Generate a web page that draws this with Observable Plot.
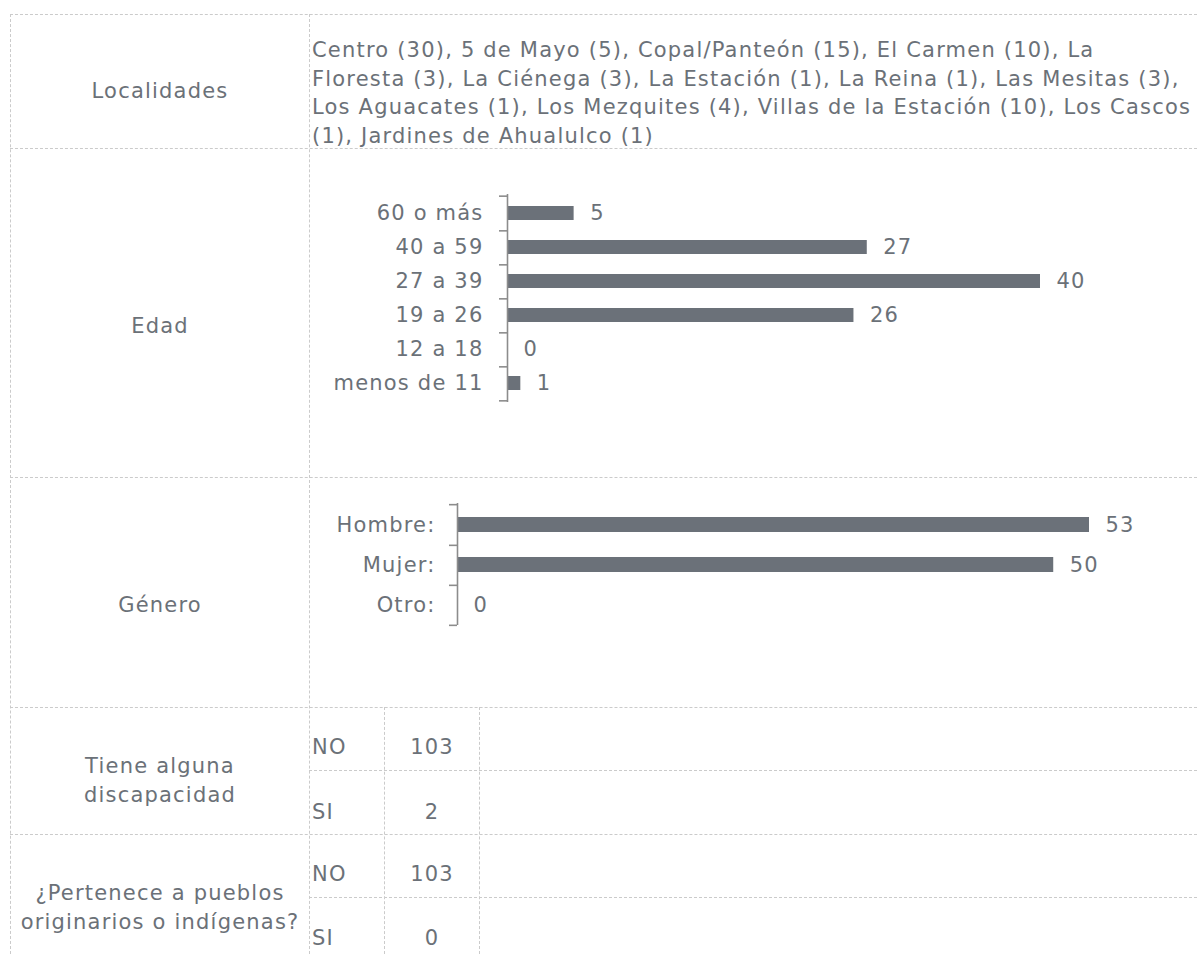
<!DOCTYPE html>
<html>
<head>
<meta charset="utf-8">
<script src="https://cdn.jsdelivr.net/npm/d3@7"></script>
<script src="https://cdn.jsdelivr.net/npm/@observablehq/plot@0.6"></script>
<style>
  body { margin: 0; background: #fff; }
  #page { position: relative; width: 1197px; height: 954px; overflow: hidden;
          font-family: "DejaVu Sans", sans-serif; color: #6b7178; font-size: 21px; letter-spacing: 1.2px; }
  .h { position: absolute; height: 0; border-top: 1px dashed #cbcbcb; }
  .v { position: absolute; width: 0; border-left: 1px dashed #cbcbcb; }
  .t { position: absolute; white-space: nowrap; }
  .c { transform: translate(-50%, -50%); text-align: center; }
  .l { transform: translateY(-50%); }
  .chart { position: absolute; }
</style>
</head>
<body>
<div id="page"></div>
<script>
// ---------- data ----------
const localidadNames = ["Centro", "5 de Mayo", "Copal/Panteón", "El Carmen", "La Floresta", "La Ciénega",
  "La Estación", "La Reina", "Las Mesitas", "Los Aguacates", "Los Mezquites", "Villas de la Estación",
  "Los Cascos", "Jardines de Ahualulco"];
const localidadCounts = [30, 5, 15, 10, 3, 3, 1, 1, 3, 1, 4, 10, 1, 1];

const edadCategories = ["60 o más", "40 a 59", "27 a 39", "19 a 26", "12 a 18", "menos de 11"];
const edadValues = [5, 27, 40, 26, 0, 1];

const generoCategories = ["Hombre:", "Mujer:", "Otro:"];
const generoValues = [53, 50, 0];

const respuestas = ["NO", "SI"];
const discapacidadValues = [103, 2];
const pueblosValues = [103, 0];

const rowLabels = ["Localidades", "Edad", "Género", "Tiene alguna\ndiscapacidad", "¿Pertenece a pueblos\noriginarios o indígenas?"];

// ---------- layout ----------
const page = document.getElementById("page");
const FONT = '"DejaVu Sans", sans-serif';
const TEXT = "#6b7178";
const BAR = "#6b7179";
const AXIS = "#8c8c8c";
const FS = 21;
const LS = "1.2px";

function el(cls, style, html) {
  const d = document.createElement("div");
  d.className = cls;
  Object.assign(d.style, style);
  if (html != null) d.innerHTML = html;
  page.appendChild(d);
  return d;
}
// grid lines
[14, 148, 477, 707, 834].forEach(y => el("h", {left: "10px", top: y + "px", width: "1187px"}));
[770, 897].forEach(y => el("h", {left: "309px", top: y + "px", width: "888px"}));
el("v", {left: "10px", top: "14px", height: "940px"});
el("v", {left: "309px", top: "14px", height: "940px"});
el("v", {left: "384px", top: "707px", height: "247px"});
el("v", {left: "479px", top: "707px", height: "247px"});

// row labels (first column)
const labelCenters = [91, 326, 605, 780, 907];
rowLabels.forEach((txt, i) => {
  el("t c", {left: "160px", top: labelCenters[i] + "px", lineHeight: "28.5px"}, txt.replace("\n", "<br>"));
});

// Localidades text
const locText = localidadNames.map((n, i) => `${n} (${localidadCounts[i]})`).join(", ");
const words = locText.split(" ");
const breaks = [12, 26, 39];
let lines = [], start = 0;
breaks.concat(words.length).forEach(b => { lines.push(words.slice(start, b).join(" ")); start = b; });
el("t", {left: "312px", top: "36px", lineHeight: "28.5px"}, lines.join("<br>"));

// small tables
function smallTable(values, centers) {
  respuestas.forEach((r, i) => {
    el("t l", {left: "312px", top: centers[i] + "px", lineHeight: "1"}, r);
    el("t c", {left: "432px", top: centers[i] + "px", lineHeight: "1"}, String(values[i]));
  });
}
smallTable(discapacidadValues, [747, 812]);
smallTable(pueblosValues, [874, 938]);

// ---------- charts ----------
function barChart({cats, values, left, top, width, height, mL, mR, mT, mB, xMax, padIn, labelPad}) {
  const data = cats.map((c, i) => ({cat: c, value: values[i]}));
  const step = (height - mT - mB) / cats.length;
  const chart = Plot.plot({
    width, height,
    marginLeft: mL, marginRight: mR, marginTop: mT, marginBottom: mB,
    x: {domain: [0, xMax], axis: null},
    y: {domain: cats, paddingInner: padIn, paddingOuter: padIn / 2, align: 0.5, axis: null, label: null},
    style: {fontFamily: FONT, fontSize: FS + "px", color: TEXT, background: "transparent", letterSpacing: LS, overflow: "visible"},
    marks: [
      Plot.barX(data, {x: "value", y: "cat", fill: BAR}),
      Plot.ruleX([0], {stroke: AXIS, strokeWidth: 1.6}),
      Plot.axisY({tickSize: 8, tickFormat: () => "", label: null, dy: step / 2, stroke: AXIS, strokeWidth: 1.6}),
      Plot.axisY({ticks: [cats[0]], tickSize: 8, tickFormat: () => "", label: null, dy: -step / 2, stroke: AXIS, strokeWidth: 1.6}),
      Plot.axisY({tickSize: 0, tickPadding: labelPad, label: null, fontSize: FS, fill: TEXT}),
      Plot.text(data, {x: "value", y: "cat", text: d => String(d.value), dx: 16, textAnchor: "start", fontSize: FS, fill: TEXT})
    ]
  });
  const holder = el("chart", {left: left + "px", top: top + "px"});
  holder.appendChild(chart);
}

barChart({cats: edadCategories, values: edadValues, left: 309, top: 148, width: 888, height: 329,
  mL: 198, mR: 157, mT: 46, mB: 75, xMax: 40, padIn: 0.6, labelPad: 24});
barChart({cats: generoCategories, values: generoValues, left: 309, top: 477, width: 888, height: 230,
  mL: 148, mR: 108, mT: 26, mB: 82, xMax: 53, padIn: 0.63, labelPad: 22});
</script>
</body>
</html>
